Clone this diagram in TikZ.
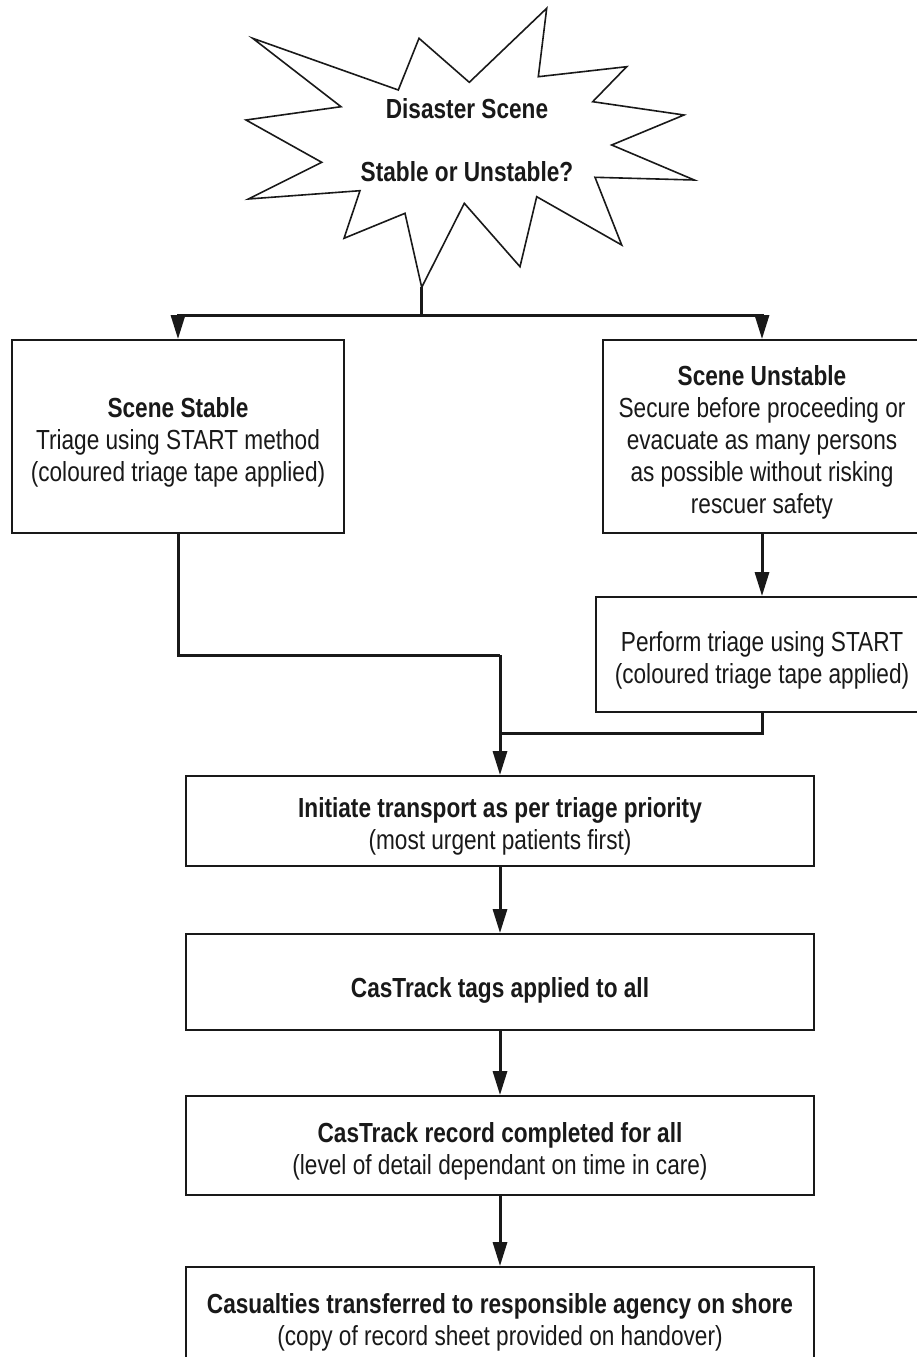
\documentclass[tikz,border=0pt]{standalone}
\usepackage{fontspec}
\setmainfont{Liberation Sans}[FakeStretch=0.82]
\usetikzlibrary{arrows.meta,calc}
\definecolor{ink}{RGB}{25,25,25}
% taller first line so that the text block sits a little lower in its box
\newcommand\firstline{\rule{0pt}{31pt}}
\begin{document}
\begin{tikzpicture}[x=1pt,y=-1pt,
  txt/.style={text=ink,align=center,font=\fontsize{27.6}{32}\selectfont},
  box/.style={txt,draw=ink,line width=1.8pt,fill=white,inner sep=0pt},
  conn/.style={draw=ink,line width=3pt},
  arr/.style={conn,-{Triangle[length=24pt,width=14pt]}},
]
\useasboundingbox (0,0) rectangle (917,1357);
\clip (0,0) rectangle (917,1357);

% starburst
\draw[ink,line width=1.6pt,fill=white,line join=miter]
  (252.7,38.3) -- (398.3,90) -- (419,38.3) -- (469.3,82.3) -- (546.7,8.3)
  -- (538.3,76.7) -- (626.7,66.7) -- (592.7,101.7) -- (684,115)
  -- (611.7,145) -- (694.3,180) -- (595,177.3) -- (621.7,245)
  -- (536.7,196.7) -- (520,266.7) -- (464.3,203.3) -- (421.7,287.3)
  -- (405,213.3) -- (344,238.3) -- (360,190.7) -- (248.3,199)
  -- (321.7,162.3) -- (246,120) -- (341,106.7) -- cycle;
\node[txt,font=\fontsize{27.6}{32}\selectfont\bfseries] (burst) at (467,140)
  {Disaster Scene\\[31pt]Stable or Unstable?};
\coordinate (tip) at (421.7,287.3);
\coordinate (split) at (421.7,315);

% boxes
\node[box,minimum width=332pt,minimum height=193pt] (stable) at (178,436.5)
  {\firstline\textbf{Scene Stable}\\Triage using START method\\(coloured triage tape applied)};
\node[box,minimum width=318pt,minimum height=193pt] (unstable) at (762,436.5)
  {\firstline\textbf{Scene Unstable}\\Secure before proceeding or\\evacuate as many persons\\as possible without risking\\rescuer safety};
\node[box,minimum width=332pt,minimum height=115pt] (perform) at (762,654.5)
  {\firstline Perform triage using START\\(coloured triage tape applied)};
\node[box,minimum width=628pt,minimum height=90pt] (initiate) at (500,821)
  {\firstline\textbf{Initiate transport as per triage priority}\\(most urgent patients first)};
\node[box,minimum width=628pt,minimum height=96pt] (tags) at (500,982)
  {\rule{0pt}{36pt}\textbf{CasTrack tags applied to all}};
\node[box,minimum width=628pt,minimum height=99pt] (record) at (500,1145.5)
  {\firstline\textbf{CasTrack record completed for all}\\(level of detail dependant on time in care)};
\node[box,minimum width=628pt,minimum height=100pt] (casualties) at (500,1317)
  {\firstline\textbf{Casualties transferred to responsible agency on shore}\\(copy of record sheet provided on handover)};

% connectors
\coordinate (j1) at (500,655);
\coordinate (j2) at (500,733);
\draw[conn] (tip) -- (split);
\draw[arr] (split) -| (stable.north);
\draw[arr] (split) -| (unstable.north);
\draw[arr] (unstable.south) -- (perform.north);
\draw[conn] (stable.south) |- (j1);
\draw[conn] (perform.south) |- (j2);
\draw[arr] (j1) -- (initiate.north);
\draw[arr] (initiate.south) -- (tags.north);
\draw[arr] (tags.south) -- (record.north);
\draw[arr] (record.south) -- (casualties.north);
\end{tikzpicture}
\end{document}
